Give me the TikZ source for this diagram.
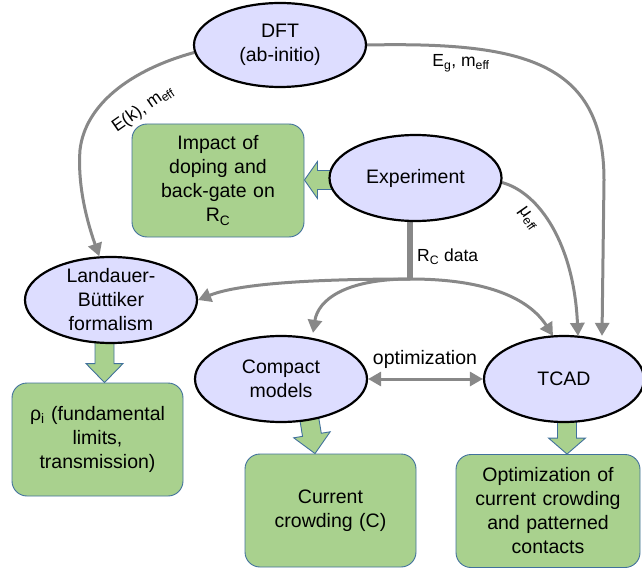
\documentclass[tikz,border=0pt]{standalone}
\usepackage{fontspec}
\setmainfont{Liberation Sans}
\usetikzlibrary{shapes.geometric,arrows.meta,calc,backgrounds}
\definecolor{lav}{RGB}{221,221,255}
\definecolor{gfill}{RGB}{169,209,142}
\definecolor{gedge}{RGB}{65,113,156}
\definecolor{conncol}{RGB}{136,136,136}
\newcommand\myNodeFont{\fontsize{19.5}{24}\selectfont}
\newcommand\myLblFont{\fontsize{17.5}{21}\selectfont}
\tikzset{
  ell/.style={ellipse, draw=black, line width=2.2pt, fill=lav, inner sep=0pt, align=center, font=\myNodeFont},
  gbox/.style={rectangle, rounded corners=15pt, draw=gedge, line width=0.9pt, fill=gfill, inner sep=0pt, font=\myNodeFont, text width=160pt, align=center},
  conn/.style={draw=conncol, line width=3pt, -{Triangle[length=13pt,width=14pt]}},
  blk/.style={draw=gedge, line width=0.9pt, fill=gfill, line join=miter},
  lbl/.style={font=\myLblFont, inner sep=0pt},
}
\newcommand\blockarr[3]{%
  \coordinate (ba) at #1;
  \coordinate (bb) at #2;
  \coordinate (bh) at ($(bb)!#3!(ba)$);
  \draw[blk] ($(ba)!9.5pt!90:(bb)$) -- ($(bh)!9.5pt!-90:(ba)$) -- ($(bh)!18.5pt!-90:(ba)$) -- (bb)
    -- ($(bh)!18.5pt!90:(ba)$) -- ($(bh)!9.5pt!90:(ba)$) -- ($(ba)!9.5pt!-90:(bb)$) -- cycle;
}
\begin{document}
\begin{tikzpicture}[x=1pt,y=-1pt]
\useasboundingbox (0,0) rectangle (642,572);
% ellipses
\node[ell, minimum width=172pt, minimum height=84pt] (dft) at (280,45) {DFT\\(ab-initio)};
\node[ell, minimum width=172pt, minimum height=86pt] (exp) at (415.5,178) {Experiment};
\node[ell, minimum width=172pt, minimum height=86pt, inner ysep=-8pt] (lb) at (111,300) {Landauer-\\Büttiker\\formalism};
\node[ell, minimum width=172pt, minimum height=86pt] (cm) at (281,379) {Compact\\models};
\node[ell, minimum width=160pt, minimum height=86pt] (tcad) at (564,379) {TCAD};
% result boxes
\node[gbox, minimum width=172pt, minimum height=113pt] (imp) at (218,180.5) {Impact of\\doping and\\back-gate on\\R\textsubscript{C}};
\node[gbox, minimum width=171pt, minimum height=113pt] (rho) at (97.5,439.5) {\makebox[160pt][c]{ρ\textsubscript{i} (fundamental}\\\makebox[160pt][c]{limits,}\\\makebox[160pt][c]{transmission)}};
\node[gbox, minimum width=171pt, minimum height=113pt] (cc) at (330.5,510.5) {Current\\crowding (C)};
\node[gbox, minimum width=184pt, minimum height=113pt] (opt) at (548,511) {Optimization of\\current crowding\\and patterned\\contacts};
% labels
\node[lbl, rotate=35] (lk) at (143,109) {E(k), m\textsubscript{eff}};
\node[lbl] (lg) at (461,63) {E\textsubscript{g}, m\textsubscript{eff}};
\node[lbl, rotate=-55] (lmu) at (528,219) {μ\textsubscript{eff}};
\node[lbl, anchor=west] (lrc) at (417,257) {R\textsubscript{C} data};
\node[lbl, font=\myNodeFont] (lopt) at (425,359) {optimization};
\coordinate (J) at (410,279);
\begin{pgfonlayer}{background}
  % connectors
  \draw[conn] (dft.185) .. controls (130,70) and (85,105) .. (80,150)
     .. controls (77,190) and (90,230) .. (lb.105);
  \draw[conn] (dft.east) .. controls (520,42) and (604,60) .. (604,180) -- ($(tcad.north)+(38,1)$);
  \draw[conn] (exp.-3) .. controls (540,193) and (574,245) .. ($(tcad.north)+(14,1)$);
  \draw[draw=conncol, line width=6pt] (J |- exp.south) -- (J);
  \draw[conn] (J) .. controls (320,279) and (240,283) .. (lb.east);
  \draw[conn] (J) .. controls (345,279) and (318,300) .. ($(cm.north)+(32,-2)$);
  \draw[conn] (J) .. controls (490,279) and (530,300) .. ($(tcad.north)+(-11,1)$);
  \draw[conn, {Triangle[length=13pt,width=14pt]}-{Triangle[length=13pt,width=14pt]}] (cm.east) -- (tcad.west);
  % block arrows
  \blockarr{($(exp.west)+(5,2)$)}{($(imp.east)+(0,-0.5)$)}{13pt}
  \coordinate (l1) at ($(lb.south)+(-6.5,-5)$);
  \blockarr{(l1)}{(l1 |- rho.north)}{19pt}
  \blockarr{($(cm.south)+(28,-6)$)}{($(cc.north)+(-15.5,0)$)}{19pt}
  \coordinate (t1) at ($(tcad.south)+(3,-5)$);
  \blockarr{(t1)}{(t1 |- opt.north)}{16pt}
\end{pgfonlayer}
\end{tikzpicture}
\end{document}
